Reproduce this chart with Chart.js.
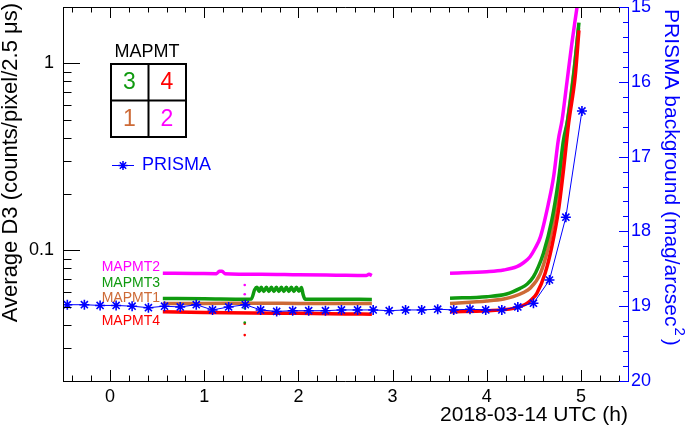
<!DOCTYPE html>
<html lang="en">
<head>
<meta charset="utf-8" />
<title>MAPMT D3 vs PRISMA</title>
<script src="https://cdn.jsdelivr.net/npm/chart.js@4.4.0/dist/chart.umd.min.js"></script>
<style>
  html, body { margin: 0; padding: 0; background: #fff; }
  #wrap { width: 685px; height: 431px; }
</style>
</head>
<body>
<div id="wrap"><canvas id="d3Chart" width="685" height="431"></canvas></div>
<script>
// hours after 2018-03-14 00:00 UTC
const xTicks = [0, 1, 2, 3, 4, 5];
const yTicks = [0.1, 1];
const yTickLabels = ['0.1', '1'];
const magTicks = [15, 16, 17, 18, 19, 20];

// PRISMA sky background (mag/arcsec^2), one point every ~10 min
const prismaHours = [-0.454, -0.273, -0.106, 0.064, 0.234, 0.407, 0.578, 0.745, 0.915, 1.088,
  1.259, 1.436, 1.599, 1.769, 1.939, 2.109, 2.287, 2.457, 2.628, 2.794, 2.964, 3.138, 3.309,
  3.479, 3.649, 3.822, 3.989, 4.160, 4.330, 4.496, 4.666, 4.840, 5.011];
const prismaMag = [18.98, 18.98, 18.99, 18.99, 19.0, 19.02, 19.0, 19.01, 18.98, 19.05,
  19.01, 18.98, 19.05, 19.07, 19.06, 19.06, 19.06, 19.05, 19.05, 19.05, 19.06, 19.05, 19.05,
  19.04, 19.05, 19.04, 19.05, 19.05, 19.01, 18.96, 18.65, 17.81, 16.39];

// average D3 per MAPMT (null = no data)
const mapmt1Hours = [0.56, 1.0, 1.5, 2.0, 2.5, 2.78, null, 3.61, 4.0, 4.18, 4.28, 4.39, 4.46, 4.57, 4.655, 4.73, 4.80, 4.87, 4.93, 4.975];
const mapmt1D3 = [0.052, 0.052, 0.0521, 0.052, 0.0519, 0.0519, null, 0.052, 0.0536, 0.0549, 0.0565, 0.0595, 0.0626, 0.0753, 0.1045, 0.165, 0.30, 0.55, 0.95, 1.55];

const mapmt2Hours = [0.56, 0.9, 1.13, 1.16, 1.19, 1.22, 1.6, 2.0, 2.4, 2.72, 2.75, 2.78, null,
  3.61, 4.0, 4.18, 4.32, 4.39, 4.46, 4.514, 4.57, 4.655, 4.71, 4.76, 4.80, 4.85, 4.904, 4.957, 4.97];
const mapmt2D3 = [0.0753, 0.0752, 0.075, 0.0772, 0.0772, 0.075, 0.0745, 0.074, 0.0736, 0.0733, 0.0745, 0.0733, null,
  0.0753, 0.0768, 0.0784, 0.0817, 0.0858, 0.0924, 0.1025, 0.118, 0.178, 0.247, 0.389, 0.497, 0.781, 1.28, 1.97, 2.2];

const mapmt3Hours = [0.56, 1.0, 1.45, 1.50, 1.535, 1.56, 1.583, 1.605, 1.632, 1.66, 1.686, 1.713, 1.74, 1.766,
  1.792, 1.819, 1.845, 1.872, 1.898, 1.925, 1.952, 1.979, 2.005, 2.032, 2.05, 2.07, 2.4, 2.78, null,
  3.61, 4.0, 4.21, 4.354, 4.43, 4.496, 4.55, 4.602, 4.691, 4.762, 4.815, 4.86, 4.921, 4.979];
const mapmt3D3 = [0.0553, 0.0551, 0.0548, 0.0549, 0.0615, 0.0634, 0.0602, 0.0634, 0.0602, 0.0634, 0.0602, 0.0634, 0.0602, 0.0634,
  0.0602, 0.0634, 0.0602, 0.0634, 0.0602, 0.0634, 0.0602, 0.0634, 0.0604, 0.0632, 0.058, 0.0548, 0.0547, 0.0546, null,
  0.0554, 0.0565, 0.0584, 0.0626, 0.066, 0.0722, 0.082, 0.0964, 0.145, 0.238, 0.389, 0.50, 0.848, 1.65];

const mapmt4Hours = [0.56, 1.0, 1.5, 2.0, 2.5, 2.78, null, 3.61, 4.0, 4.283, 4.36, 4.426, 4.48, 4.532, 4.62, 4.691, 4.762, 4.815, 4.87, 4.939, 4.979];
const mapmt4D3 = [0.0469, 0.0465, 0.0462, 0.046, 0.0457, 0.0455, null, 0.0469, 0.0475, 0.0489, 0.0502, 0.052, 0.0548, 0.0589, 0.0753, 0.1045, 0.164, 0.269, 0.48, 0.848, 1.5];

// isolated readings around 1.43 h
const spikeHour = 1.43;
const mapmt2Spike = [0.0652, 0.0582];
const mapmt3Spike = [0.049, 0.0411];
const mapmt4Spike = [0.0405, 0.0352];

const FONT = "'Liberation Sans', Arial, sans-serif";
const BLUE = '#0000ff';
const colours = { m1: '#cd6a36', m2: '#ff00ff', m3: '#0f9a0f', m4: '#ff0000' };

function pts(xs, ys) {
  return xs.map((x, i) => ({ x: x, y: ys[i] }));
}

function mapmtLine(label, xs, ys, colour, order) {
  return {
    label: label, data: pts(xs, ys), yAxisID: 'y', showLine: true, spanGaps: false,
    cubicInterpolationMode: 'monotone',
    borderColor: colour, borderWidth: 3.5, pointRadius: 0, order: order, clip: 0
  };
}

function spikeDots(ys, colour) {
  return {
    data: ys.map(v => ({ x: spikeHour, y: v })), yAxisID: 'y', showLine: false,
    pointRadius: 1.3, pointBorderWidth: 0, backgroundColor: colour, borderColor: colour, order: 5
  };
}

// frame, inward ROOT-style ticks, titles and the little MAPMT legend
const decorations = {
  id: 'decorations',
  afterDraw(chart) {
    const ctx = chart.ctx;
    const a = chart.chartArea;
    const xs = chart.scales.x, ys = chart.scales.y, ms = chart.scales.y2;
    ctx.save();

    ctx.strokeStyle = '#000';
    ctx.lineWidth = 1;
    ctx.beginPath();
    ctx.moveTo(a.right, a.top + 0.5); ctx.lineTo(a.left + 0.5, a.top + 0.5);
    ctx.lineTo(a.left + 0.5, a.bottom + 0.5); ctx.lineTo(a.right, a.bottom + 0.5);
    // time ticks, bottom and top
    for (let k = -2; k <= 27; k++) {
      const v = k / 5;
      const px = Math.round(xs.getPixelForValue(v)) + 0.5;
      const len = (k % 5 === 0) ? 11 : 5.5;
      ctx.moveTo(px, a.bottom); ctx.lineTo(px, a.bottom - len);
      ctx.moveTo(px, a.top); ctx.lineTo(px, a.top + len);
    }
    // log ticks on the left
    for (let d = -2; d <= 0; d++) {
      for (let k = 1; k <= 9; k++) {
        const v = k * Math.pow(10, d);
        if (v < 0.02 || v > 2) continue;
        const py = Math.round(ys.getPixelForValue(v)) + 0.5;
        const len = k === 1 ? 17 : 8.5;
        ctx.moveTo(a.left, py); ctx.lineTo(a.left + len, py);
      }
    }
    ctx.stroke();

    // PRISMA axis on the right
    ctx.strokeStyle = BLUE;
    ctx.beginPath();
    ctx.moveTo(a.right + 0.5, a.top); ctx.lineTo(a.right + 0.5, a.bottom + 1);
    for (let k = 75; k <= 100; k++) {
      const py = Math.round(ms.getPixelForValue(k / 5)) + 0.5;
      const len = (k % 5 === 0) ? 9 : 5;
      ctx.moveTo(a.right, py); ctx.lineTo(a.right - len, py);
    }
    ctx.stroke();

    // axis titles
    ctx.fillStyle = '#000';
    ctx.font = '22px ' + FONT;
    ctx.textBaseline = 'middle';
    ctx.save();
    ctx.translate(11, 3);
    ctx.rotate(-Math.PI / 2);
    ctx.textAlign = 'right';
    ctx.fillText('Average D3 (counts/pixel/2.5 \u03bcs)', 0, 0);
    ctx.restore();

    ctx.font = '21px ' + FONT;
    ctx.textAlign = 'right';
    ctx.fillText('2018-03-14 UTC (h)', a.right, 415);

    ctx.save();
    ctx.fillStyle = BLUE;
    ctx.translate(671, 9);
    ctx.rotate(Math.PI / 2);
    ctx.textAlign = 'left';
    const main = 'PRISMA background (mag/arcsec';
    ctx.fillText(main, 0, 0);
    let w = ctx.measureText(main).width;
    ctx.font = '15px ' + FONT;
    ctx.fillText('2', w + 1, -8);
    w += ctx.measureText('2').width + 4;
    ctx.font = '21px ' + FONT;
    ctx.fillText(')', w, 0);
    ctx.restore();

    // MAPMT layout box
    ctx.fillStyle = '#000';
    ctx.textAlign = 'center';
    ctx.font = '18px ' + FONT;
    ctx.fillText('MAPMT', 147, 52);
    ctx.lineWidth = 2;
    ctx.strokeStyle = '#000';
    ctx.strokeRect(111, 64, 75, 73);
    ctx.beginPath();
    ctx.moveTo(148.5, 64); ctx.lineTo(148.5, 137);
    ctx.moveTo(111, 100.5); ctx.lineTo(186, 100.5);
    ctx.stroke();
    ctx.font = '23px ' + FONT;
    ctx.fillStyle = colours.m3; ctx.fillText('3', 129.5, 83);
    ctx.fillStyle = colours.m4; ctx.fillText('4', 167, 83);
    ctx.fillStyle = colours.m1; ctx.fillText('1', 129.5, 120);
    ctx.fillStyle = colours.m2; ctx.fillText('2', 167, 120);

    // PRISMA legend entry
    ctx.strokeStyle = BLUE;
    ctx.lineWidth = 1;
    ctx.beginPath();
    ctx.moveTo(112, 165.5); ctx.lineTo(134, 165.5);
    ctx.stroke();
    ctx.lineWidth = 1.5;
    ctx.beginPath();
    const r = 4.5;
    for (let k = 0; k < 4; k++) {
      const ang = k * Math.PI / 4;
      ctx.moveTo(123 - r * Math.cos(ang), 165.5 - r * Math.sin(ang));
      ctx.lineTo(123 + r * Math.cos(ang), 165.5 + r * Math.sin(ang));
    }
    ctx.stroke();
    ctx.fillStyle = BLUE;
    ctx.textAlign = 'left';
    ctx.font = '18px ' + FONT;
    ctx.fillText('PRISMA', 142, 165);

    // series labels
    ctx.textAlign = 'right';
    ctx.font = '14px ' + FONT;
    ctx.fillStyle = colours.m2; ctx.fillText('MAPMT2', 160, 267);
    ctx.fillStyle = colours.m3; ctx.fillText('MAPMT3', 160, 283);
    ctx.fillStyle = colours.m1; ctx.fillText('MAPMT1', 160, 298);
    ctx.fillStyle = colours.m4; ctx.fillText('MAPMT4', 160, 321);

    ctx.restore();
  }
};

function fixedWidth(w) {
  return function (scale) {
    scale.width = w;
    scale.paddingTop = 0; scale.paddingBottom = 0;
  };
}

new Chart(document.getElementById('d3Chart'), {
  type: 'scatter',
  data: {
    datasets: [
      {
        label: 'PRISMA', data: pts(prismaHours, prismaMag), yAxisID: 'y2', showLine: true,
        borderColor: BLUE, borderWidth: 1, pointStyle: 'star', pointRadius: 5,
        pointBorderWidth: 1.6, pointBorderColor: BLUE, pointBackgroundColor: BLUE, order: 0, clip: 0
      },
      mapmtLine('MAPMT4', mapmt4Hours, mapmt4D3, colours.m4, 1),
      mapmtLine('MAPMT3', mapmt3Hours, mapmt3D3, colours.m3, 2),
      mapmtLine('MAPMT1', mapmt1Hours, mapmt1D3, colours.m1, 3),
      mapmtLine('MAPMT2', mapmt2Hours, mapmt2D3, colours.m2, 4),
      spikeDots(mapmt2Spike, colours.m2),
      spikeDots(mapmt3Spike, colours.m3),
      spikeDots(mapmt4Spike, colours.m4)
    ]
  },
  options: {
    responsive: false,
    animation: false,
    layout: { padding: { top: 7, left: 0, right: 0, bottom: 0 } },
    plugins: { legend: { display: false }, tooltip: { enabled: false } },
    scales: {
      x: {
        type: 'linear', min: -0.5, max: 5.5,
        grid: { display: false, drawTicks: false }, border: { display: false },
        afterBuildTicks: s => { s.ticks = xTicks.map(v => ({ value: v })); },
        afterFit: s => { s.height = 50; s.paddingLeft = 0; s.paddingRight = 0; },
        ticks: { color: '#000', font: { family: FONT, size: 18 }, padding: 5, maxRotation: 0 }
      },
      y: {
        type: 'logarithmic', position: 'left', min: 0.02, max: 2,
        grid: { display: false, drawTicks: false }, border: { display: false },
        afterBuildTicks: s => { s.ticks = yTicks.map(v => ({ value: v })); },
        afterFit: fixedWidth(63),
        ticks: {
          color: '#000', font: { family: FONT, size: 18 }, padding: 9,
          callback: v => yTickLabels[yTicks.indexOf(v)]
        }
      },
      y2: {
        type: 'linear', position: 'right', min: 15, max: 20, reverse: true,
        grid: { display: false, drawTicks: false }, border: { display: false },
        afterBuildTicks: s => { s.ticks = magTicks.map(v => ({ value: v })); },
        afterFit: fixedWidth(57),
        ticks: { color: BLUE, font: { family: FONT, size: 18 }, padding: 3 }
      }
    }
  },
  plugins: [decorations]
});
</script>
</body>
</html>
